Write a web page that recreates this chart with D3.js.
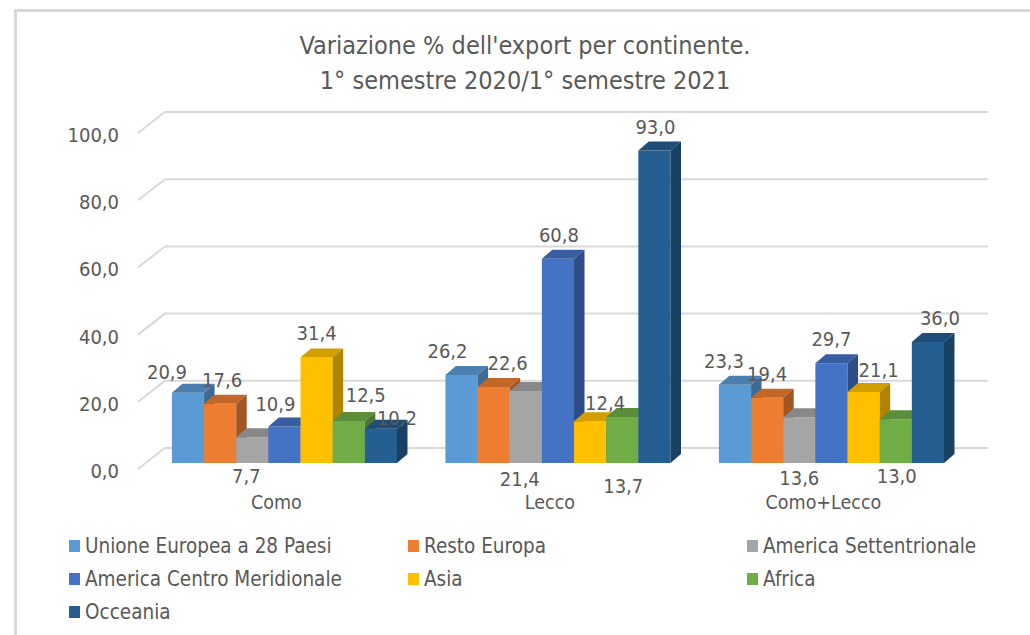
<!DOCTYPE html>
<html><head><meta charset="utf-8">
<script src="https://cdn.jsdelivr.net/npm/d3@7/dist/d3.min.js"></script>
<style>
body{margin:0;background:#fff}
svg text{font-family:"Liberation Sans Narrow","Arial Narrow","DejaVu Sans Condensed",sans-serif;fill:#595959}
</style>
</head><body>
<svg id="chart" width="1030" height="635"></svg>
<script>
// ---------- DATA ----------
const titleLines = ["Variazione % dell'export per continente.", "1° semestre 2020/1° semestre 2021"];
const categories = ["Como", "Lecco", "Como+Lecco"];
const seriesNames = ["Unione Europea a 28 Paesi", "Resto Europa", "America Settentrionale",
                     "America Centro Meridionale", "Asia", "Africa", "Occeania"];
const ueValues          = [20.9, 26.2, 23.3];
const restoEuropaValues = [17.6, 22.6, 19.4];
const americaSettValues = [7.7, 21.4, 13.6];
const americaCentroValues = [10.9, 60.8, 29.7];
const asiaValues        = [31.4, 12.4, 21.1];
const africaValues      = [12.5, 13.7, 13.0];
const oceaniaValues     = [10.2, 93.0, 36.0];
const yTickValues = [0, 20, 40, 60, 80, 100];

const seriesValues = [ueValues, restoEuropaValues, americaSettValues, americaCentroValues,
                      asiaValues, africaValues, oceaniaValues];
const seriesColors = ["#5B9BD5", "#ED7D31", "#A5A5A5", "#4472C4", "#FFC000", "#70AD47", "#255E91"];

// data-label layout (which labels sit under the axis, and small nudges)
const labelBelow = [
  [false, false, true, false, false, false, false],
  [false, false, true, false, false, true, false],
  [false, false, true, false, false, true, false]
];
const labelNudge = [
  [[-21, 3], [2, 0], [-6, -3], [-9, 2], [0, 0], [17, -2], [16, 13]],
  [[-14, 0], [14, 0], [-6, 0], [1, 0], [15, 6], [1, 7], [1, 0]],
  [[-11, 0], [0, 0], [0, -1], [0, 0], [15, 2], [1, -3], [12, 0]]
];

// ---------- LAYOUT ----------
const svg = d3.select("#chart");
const fmt = d3.formatLocale({decimal: ",", thousands: ".", grouping: [3], currency: ["", "€"]}).format(".1f");

// back wall
const wallLeft = 165, wallRight = 988;
const y = d3.scaleLinear().domain([0, 100]).range([448, 112]);
const floorDx = -27, floorDy = 21;       // from back wall to front edge
const barFrontDx = -19.3, barFrontDy = 15; // bar front plane offset from back wall
const depthDx = 10.5, depthDy = -9;      // bar depth

const x0 = d3.scaleBand().domain(categories).range([167, 987.5]).paddingInner(0.177).paddingOuter(0.0885);
const x1 = d3.scaleBand().domain(d3.range(seriesNames.length)).range([0, x0.bandwidth()]);

// border
svg.append("path").attr("d", "M15.5,635 L15.5,10.5 L1030,10.5")
  .attr("fill", "none").attr("stroke", "#d9d9d9").attr("stroke-width", 3);

// title
svg.append("g").selectAll("text").data(titleLines).join("text")
  .attr("x", 525).attr("y", (d, i) => 54 + i * 35)
  .attr("text-anchor", "middle").attr("font-size", 25).text(d => d);

// gridlines
const grid = svg.append("g");
yTickValues.forEach(v => {
  const yy = y(v);
  grid.append("path")
    .attr("d", `M${wallLeft + floorDx},${yy + floorDy} L${wallLeft},${yy} L${wallRight},${yy}`)
    .attr("fill", "none").attr("stroke", "#d9d9d9").attr("stroke-width", 2);
  grid.append("text").attr("x", 119).attr("y", yy + floorDy + 9)
    .attr("text-anchor", "end").attr("font-size", 20).text(fmt(v));
});

// bars
const barsG = svg.append("g");
categories.forEach((cat, ci) => {
  seriesNames.forEach((s, si) => {
    const v = seriesValues[si][ci];
    const xl = x0(cat) + x1(si) + barFrontDx;
    const xr = xl + x1.bandwidth();
    const yt = y(v) + barFrontDy;
    const yb = y(0) + barFrontDy;
    const c = d3.color(seriesColors[si]);
    const g = barsG.append("g");
    g.append("path").attr("d", `M${xl},${yb} L${xl},${yt} L${xr},${yt} L${xr},${yb} Z`).attr("fill", c.formatHex());
    g.append("path").attr("d", `M${xl},${yt} L${xl + depthDx},${yt + depthDy} L${xr + depthDx},${yt + depthDy} L${xr},${yt} Z`)
      .attr("fill", c.darker(0.55).formatHex());
    g.append("path").attr("d", `M${xr},${yt} L${xr + depthDx},${yt + depthDy} L${xr + depthDx},${yb + depthDy} L${xr},${yb} Z`)
      .attr("fill", c.darker(1.05).formatHex());
  });
});

// data labels
const labelsG = svg.append("g");
categories.forEach((cat, ci) => {
  seriesNames.forEach((s, si) => {
    const v = seriesValues[si][ci];
    const cx = x0(cat) + x1(si) + barFrontDx + x1.bandwidth() / 2;
    const cy = labelBelow[ci][si] ? y(0) + barFrontDy + 16 : y(v) + barFrontDy - 24;
    const [ndx, ndy] = labelNudge[ci][si];
    labelsG.append("text").attr("x", cx + ndx).attr("y", cy + ndy + 7)
      .attr("text-anchor", "middle").attr("font-size", 20).text(fmt(v));
  });
});

// category labels
svg.append("g").selectAll("text").data(categories).join("text")
  .attr("x", d => x0(d) + barFrontDx + x0.bandwidth() / 2 - 8)
  .attr("y", 509).attr("text-anchor", "middle").attr("font-size", 19.5).text(d => d);

// legend
const legendCols = [69, 408, 747];
const legend = svg.append("g");
seriesNames.forEach((s, i) => {
  const lx = legendCols[i % 3];
  const ly = 546 + Math.floor(i / 3) * 33;
  legend.append("rect").attr("x", lx).attr("y", ly - 6).attr("width", 11).attr("height", 12).attr("fill", seriesColors[i]);
  legend.append("text").attr("x", lx + 16).attr("y", ly + 7).attr("font-size", 20.5).text(s);
});
</script>
</body></html>
